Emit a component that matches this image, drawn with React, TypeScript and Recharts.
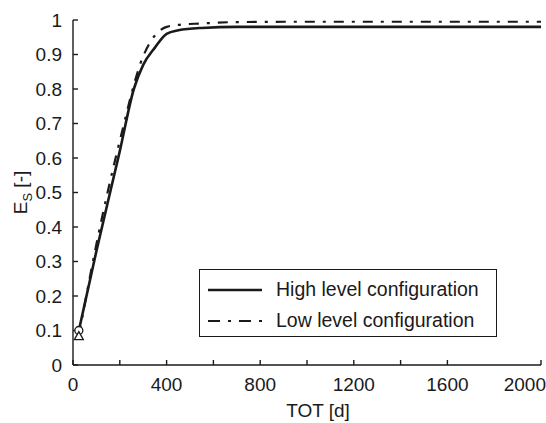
import React from 'react';
import { LineChart, Line, XAxis, YAxis, Legend } from 'recharts';

// TOT [d] sample points and E_S values
const highTot = [25, 100, 200, 260, 300, 350, 400, 450, 550, 700, 1000, 1500, 2000];
const highEs = [0.1, 0.33, 0.62, 0.8, 0.87, 0.92, 0.96, 0.97, 0.977, 0.98, 0.98, 0.98, 0.98];
const lowTot = [25, 100, 200, 300, 350, 400, 450, 550, 700, 1000, 1500, 2000];
const lowEs = [0.085, 0.35, 0.65, 0.895, 0.955, 0.98, 0.986, 0.99, 0.994, 0.995, 0.995, 0.995];

const xTicks = [0, 200, 400, 600, 800, 1000, 1200, 1400, 1600, 1800, 2000];
const xTickLabels = ['0', '', '400', '', '800', '', '1200', '', '1600', '', '2000'];
const yTicks = [0, 0.1, 0.2, 0.3, 0.4, 0.5, 0.6, 0.7, 0.8, 0.9, 1];
const yTickLabels = ['0', '0.1', '0.2', '0.3', '0.4', '0.5', '0.6', '0.7', '0.8', '0.9', '1'];

const seriesNames = ['High level configuration', 'Low level configuration'];

const highData = highTot.map((t, i) => ({ tot: t, es: highEs[i] }));
const lowData = lowTot.map((t, i) => ({ tot: t, es: lowEs[i] }));

const FONT = 'Liberation Sans, Arial, sans-serif';
const INK = '#1a1a1a';

const CircleDot = (props: any) => {
  if (props.index !== 0) return null;
  return <circle key="c" cx={props.cx} cy={props.cy} r={4} fill="#fff" stroke={INK} strokeWidth={1.3} />;
};

const TriangleDot = (props: any) => {
  if (props.index !== 0) return null;
  const { cx, cy } = props;
  return (
    <path
      key="t"
      d={`M${cx},${cy - 4} L${cx + 4.5},${cy + 4} L${cx - 4.5},${cy + 4} Z`}
      fill="#fff"
      stroke={INK}
      strokeWidth={1.3}
    />
  );
};

// last label is pulled in so it stays inside the picture, like the original
const XTick = (props: any) => {
  const { x, y, payload } = props;
  const i = xTicks.indexOf(payload.value);
  const label = xTickLabels[i] ?? '';
  if (!label) return null;
  const last = i === xTicks.length - 1;
  return (
    <text
      x={last ? 546 : x}
      y={y}
      dy="0.71em"
      textAnchor={last ? 'end' : 'middle'}
      fontFamily={FONT}
      fontSize={19}
      fill={INK}
    >
      {label}
    </text>
  );
};

const YLabel = (props: any) => {
  const cy = props.viewBox ? props.viewBox.y + props.viewBox.height / 2 : 192;
  return (
    <text
      x={0}
      y={0}
      transform={`translate(27, ${cy}) rotate(-90)`}
      textAnchor="middle"
      fontFamily={FONT}
      fontSize={19}
      fill={INK}
    >
      E<tspan fontSize={13} dy={5}>S</tspan>
      <tspan dy={-5}> [-]</tspan>
    </text>
  );
};

const LegendBox = () => (
  <div
    style={{
      width: 296,
      height: 66,
      border: `1.3px solid ${INK}`,
      background: '#fff',
      fontFamily: FONT,
      fontSize: 19.5,
      color: INK,
      boxSizing: 'content-box',
    }}
  >
    {seriesNames.map((name, i) => (
      <div key={name} style={{ display: 'flex', alignItems: 'center', height: 31, marginTop: i === 0 ? 4 : 0 }}>
        <svg width={68} height={10} style={{ marginLeft: 8 }}>
          <line
            x1={0}
            y1={5}
            x2={54}
            y2={5}
            stroke={INK}
            strokeWidth={i === 0 ? 2.6 : 2.2}
            strokeDasharray={i === 0 ? undefined : '12 8 3 8'}
          />
        </svg>
        <span>{name}</span>
      </div>
    ))}
  </div>
);

export default function App() {
  return (
    <div style={{ position: 'absolute', left: 0, top: 0, background: '#fff' }}>
      <LineChart width={546} height={423} margin={{ top: 20, right: 5, bottom: 0, left: 0 }}>
        <XAxis
          dataKey="tot"
          type="number"
          domain={[0, 2000]}
          ticks={xTicks}
          allowDataOverflow
          height={58}
          stroke={INK}
          strokeWidth={1.4}
          tickSize={-5}
          tickMargin={18}
          tick={<XTick />}
          label={{ value: 'TOT [d]', position: 'insideBottom', offset: 6, dx: 11, fill: INK, fontSize: 19, fontFamily: FONT }}
        />
        <YAxis
          dataKey="es"
          type="number"
          domain={[0, 1]}
          ticks={yTicks}
          tickFormatter={(v: number) => yTickLabels[yTicks.indexOf(v)] ?? ''}
          width={73}
          stroke={INK}
          strokeWidth={1.4}
          tickSize={-5}
          tickMargin={16}
          tick={{ fill: INK, fontSize: 19, fontFamily: FONT }}
          label={<YLabel />}
        />
        <Legend
          layout="horizontal"
          verticalAlign="middle"
          align="center"
          content={<LegendBox />}
          wrapperStyle={{ left: 199, top: 269, width: 300 }}
        />
        <Line
          data={highData}
          dataKey="es"
          name={seriesNames[0]}
          type="monotone"
          stroke={INK}
          strokeWidth={2.6}
          dot={<CircleDot />}
          activeDot={false}
          isAnimationActive={false}
        />
        <Line
          data={lowData}
          dataKey="es"
          name={seriesNames[1]}
          type="monotone"
          stroke={INK}
          strokeWidth={2.2}
          strokeDasharray="10 8 3 8"
          dot={<TriangleDot />}
          activeDot={false}
          isAnimationActive={false}
        />
      </LineChart>
    </div>
  );
}
